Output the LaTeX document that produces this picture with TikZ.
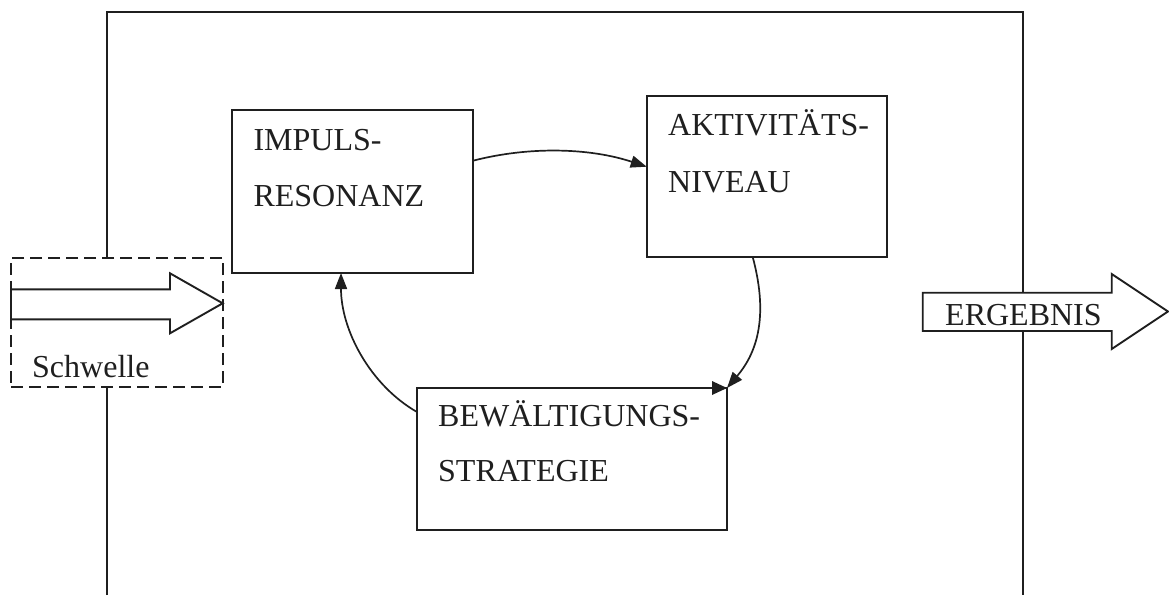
\documentclass[tikz,border=0pt]{standalone}
\usepackage{fontspec}
\setmainfont{Liberation Serif}
\usetikzlibrary{arrows.meta,calc}
\begin{document}
\begin{tikzpicture}[x=1pt,y=-1pt,
  frame/.style={line width=1.9pt, draw=black!88},
  box/.style={draw=black!88, line width=1.9pt, inner sep=0pt, outer sep=0pt, anchor=north west, fill=white},
  lbl/.style={inner sep=0pt, anchor=base west, font=\fontsize{32}{36}\selectfont, text=black!88},
  conn/.style={line width=1.7pt, draw=black!88, -{Triangle[length=16pt,width=12pt]}},
  fat/.style={draw=black!88, line width=1.9pt, fill=white, line join=miter}]
\useasboundingbox (0,0) rectangle (1169,595);
% outer frame
\coordinate (ftl) at (107,12);
\coordinate (ftr) at (1023,12);
\coordinate (fbl) at (107,595);
\coordinate (fbr) at (1023,595);
\draw[frame] (fbl) -- (ftl) -- (ftr) -- (fbr);
% threshold
\node[box, dashed, dash pattern=on 12pt off 6pt, minimum width=212pt, minimum height=129pt] (sch) at (11,258) {};
\draw[fat] (11,289.3) -- (170,289.3) -- (170,273.3) -- (222.7,303.3) -- (170,333.3) -- (170,319.3) -- (11,319.3) -- cycle;
\node[lbl] (schl) at (32,377) {Schwelle};
% boxes
\node[box, minimum width=241pt, minimum height=163pt] (imp) at (232,110) {};
\node[lbl] (imp1) at (253.3,150.7) {IMPULS-};
\node[lbl] (imp2) at (253.3,206.7) {RESONANZ};
\node[box, minimum width=240pt, minimum height=161pt] (akt) at (646.7,96) {};
\node[lbl] (akt1) at (668,135) {AKTIVITÄTS-};
\node[lbl] (akt2) at (668,192) {NIVEAU};
\node[box, minimum width=310pt, minimum height=142pt] (bew) at (417,388) {};
\node[lbl] (bew1) at (438,426.7) {BEWÄLTIGUNGS-};
\node[lbl] (bew2) at (438,481.7) {STRATEGIE};
% result arrow
\draw[fat] (922.7,292.7) -- (1111.7,292.7) -- (1111.7,274) -- (1168,311.5) -- (1111.7,349) -- (1111.7,331) -- (922.7,331) -- cycle;
\node[lbl] (erg) at (945,325) {ERGEBNIS};
% connectors
\draw[conn] ($(imp.north east)+(0,50.7)$) .. controls ($(imp.north east)+(57,36)$) and ($(akt.north west)+(-56.7,52)$) .. ($(akt.north west)+(0,70.7)$);
\draw[conn] ($(akt.south west)+(106,0)$) .. controls ($(akt.south west)+(123,63)$) and ($(bew.north east)+(28,-33)$) .. (bew.north east);
\fill[black!88] ($(bew.north east)+(-15,-7)$) -- (bew.north east) -- ($(bew.north east)+(-15,7)$) -- cycle;
\draw[conn] ($(bew.north west)+(0,24)$) .. controls ($(bew.north west)+(-47,-3)$) and ($(imp.south west)+(109,57)$) .. ($(imp.south west)+(109,0)$);
\end{tikzpicture}
\end{document}
